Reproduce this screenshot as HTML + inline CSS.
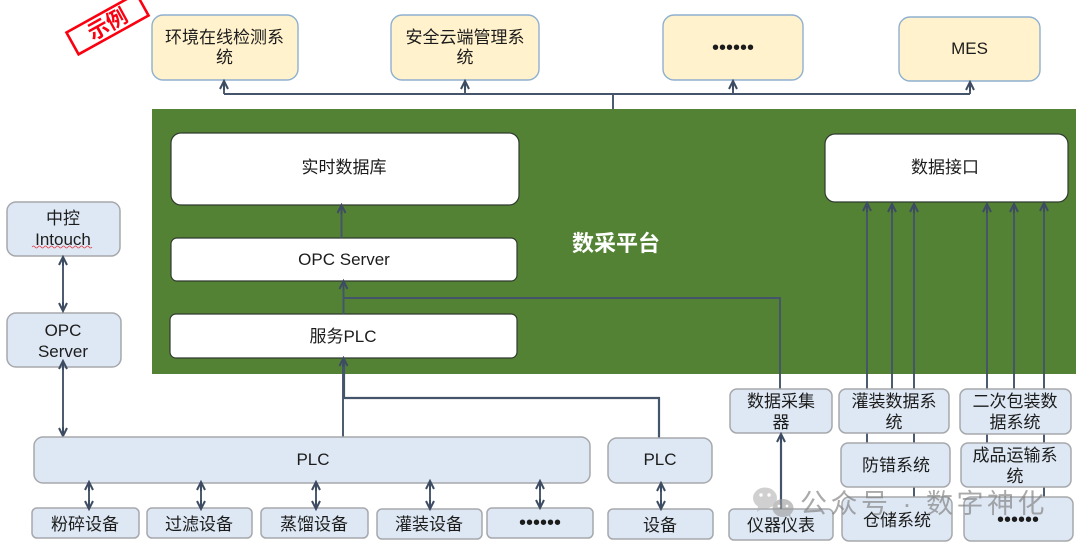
<!DOCTYPE html>
<html lang="zh">
<head>
<meta charset="utf-8">
<style>
html,body{margin:0;padding:0;background:#fff;width:1080px;height:547px;overflow:hidden}
svg{display:block}
text{font-family:"Liberation Sans","Noto Sans CJK SC",sans-serif;font-size:17px;fill:#1c1c1c;text-anchor:middle}
.y{fill:#fff2cc;stroke:#8fb0cf;stroke-width:1.4}
.b{fill:#dee8f4;stroke:#a6a8ab;stroke-width:1.5}
.w{fill:#fff;stroke:#2f3a2f;stroke-width:1.2}
.l{fill:none;stroke:#44546a;stroke-width:1.9}
.a{fill:none;stroke:#3d4c63;stroke-width:2}
.d{font-size:20px}
</style>
</head>
<body>
<svg width="1080" height="547" viewBox="0 0 1080 547" xmlns="http://www.w3.org/2000/svg">
<defs>
<path id="up" class="a" d="M-4 8 L0 0 L4 8 M0 1 V9"/>
<path id="dn" class="a" d="M-4 -8 L0 0 L4 -8 M0 -1 V-9"/>
</defs>

<!-- stamp -->
<g transform="translate(107.5 24) rotate(-29)">
<rect x="-40" y="-12.5" width="80" height="25" fill="#fff" stroke="#fa0010" stroke-width="2.6"/>
<text x="0" y="7.500" style="font-size:21px;font-weight:bold;fill:#fa0010">示例</text>
</g>

<!-- top boxes -->
<rect class="y" x="152" y="15" width="146" height="65" rx="11"/>
<rect class="y" x="391" y="15" width="148" height="65" rx="11"/>
<rect class="y" x="663" y="15" width="140" height="65" rx="11"/>
<rect class="y" x="899" y="17" width="141" height="64" rx="11"/>
<text x="224.500" y="43">环境在线检测系</text>
<text x="224.500" y="63">统</text>
<text x="465" y="43">安全云端管理系</text>
<text x="465" y="63">统</text>
<text x="733" y="54" class="d">••••••</text>
<text x="969.500" y="54">MES</text>

<!-- top bus -->
<path class="l" d="M224 94 H970 M224 94 V81 M465 94 V81 M733 94 V81 M970 94 V82 M613 109 V94"/>
<use href="#up" x="224" y="81"/>
<use href="#up" x="465" y="81"/>
<use href="#up" x="733" y="81"/>
<use href="#up" x="970" y="82"/>

<!-- green platform -->
<rect x="152" y="109" width="924" height="265" fill="#548235"/>
<text x="616" y="251" style="font-size:22px;font-weight:bold;fill:#fff">数采平台</text>

<!-- white boxes -->
<rect class="w" x="171" y="133" width="348" height="72" rx="10"/>
<rect class="w" x="825" y="134" width="243" height="68" rx="10"/>
<rect class="w" x="171" y="238" width="346" height="43" rx="6"/>
<rect class="w" x="170" y="314" width="347" height="44" rx="6"/>
<text x="344" y="173">实时数据库</text>
<text x="945" y="173">数据接口</text>
<text x="344" y="265">OPC Server</text>
<text x="343" y="342">服务PLC</text>

<!-- inner connectors -->
<path class="l" d="M341.500 238 V205"/>
<use href="#up" x="341.500" y="205"/>
<path class="l" d="M343.500 314 V281 M343.500 298 H780 V389"/>
<use href="#up" x="343.500" y="281"/>

<!-- data interface lines -->
<path class="l" d="M867 389 V203 M892 389 V203 M914 389 V203 M987 389 V203 M1014 389 V203 M1044 389 V203"/>
<use href="#up" x="867" y="203"/>
<use href="#up" x="892" y="204"/>
<use href="#up" x="914" y="204"/>
<use href="#up" x="987" y="204"/>
<use href="#up" x="1014" y="204"/>
<use href="#up" x="1044" y="203"/>
<path class="l" d="M867 433 V443 M914 433 V443 M914 487 V497 M987 434 V443 M1044 434 V443 M1044 487 V497"/>

<!-- left boxes -->
<rect class="b" x="7" y="202" width="113" height="54" rx="9"/>
<rect class="b" x="7" y="313" width="114" height="54" rx="9"/>
<text x="63" y="224">中控</text>
<text x="63" y="245">Intouch</text>
<path d="M32 247 q1.500 -2 3 0 t3 0 t3 0 t3 0 t3 0 t3 0 t3 0 t3 0 t3 0 t3 0 t3 0 t3 0 t3 0 t3 0 t3 0 t3 0 t3 0 t3 0 t3 0 t3 0" fill="none" stroke="#e0404a" stroke-width="0.8"/>
<text x="63" y="336">OPC</text>
<text x="63" y="357">Server</text>
<path class="l" d="M63 257 V311"/>
<use href="#up" x="63" y="257"/>
<use href="#dn" x="63" y="311"/>
<path class="l" d="M63 361 V435"/>
<use href="#up" x="63" y="361"/>
<use href="#dn" x="63" y="436"/>

<!-- PLC tree -->
<path class="l" d="M343 437 V358"/>
<path class="l" style="stroke-width:2.200" d="M344 358 V398 H659 V438"/>
<use href="#up" x="343.500" y="358"/>

<rect class="b" x="34" y="437" width="556" height="46" rx="9"/>
<rect class="b" x="608" y="438" width="104" height="45" rx="9"/>
<text x="313" y="465">PLC</text>
<text x="660" y="465">PLC</text>

<!-- bottom devices -->
<rect class="b" x="32" y="508" width="107" height="30" rx="5"/>
<rect class="b" x="147" y="508" width="105" height="30" rx="5"/>
<rect class="b" x="261" y="508" width="107" height="30" rx="5"/>
<rect class="b" x="377" y="509" width="105" height="30" rx="5"/>
<rect class="b" x="487" y="508" width="106" height="30" rx="5"/>
<rect class="b" x="608" y="509" width="105" height="30" rx="5"/>
<text x="85" y="530">粉碎设备</text>
<text x="199" y="530">过滤设备</text>
<text x="314" y="530">蒸馏设备</text>
<text x="429" y="530">灌装设备</text>
<text x="540" y="529" class="d">••••••</text>
<text x="660" y="531">设备</text>

<!-- double arrows -->
<path class="l" d="M89 483 V508 M201 483 V508 M316 483 V508 M430 482 V508 M540 481 V508 M661 483 V508"/>
<use href="#up" x="89" y="482"/>
<use href="#dn" x="89" y="509"/>
<use href="#up" x="201" y="482"/>
<use href="#dn" x="201" y="509"/>
<use href="#up" x="316" y="482"/>
<use href="#dn" x="316" y="509"/>
<use href="#up" x="430" y="481"/>
<use href="#dn" x="430" y="509"/>
<use href="#up" x="540" y="481"/>
<use href="#dn" x="540" y="508"/>
<use href="#up" x="661" y="483"/>
<use href="#dn" x="661" y="509"/>

<!-- right group -->
<rect class="b" x="730" y="389" width="102" height="44" rx="7"/>
<rect class="b" x="839" y="389" width="110" height="44" rx="7"/>
<rect class="b" x="960" y="389" width="111" height="45" rx="7"/>
<rect class="b" x="841" y="443" width="109" height="44" rx="7"/>
<rect class="b" x="961" y="443" width="110" height="44" rx="7"/>
<rect class="b" x="842" y="497" width="110" height="44" rx="7"/>
<rect class="b" x="964" y="497" width="109" height="44" rx="7"/>
<rect class="b" x="729" y="509" width="104" height="31" rx="5"/>
<text x="781" y="407">数据采集</text>
<text x="781" y="428">器</text>
<text x="894" y="407">灌装数据系</text>
<text x="894" y="428">统</text>
<text x="1015" y="407">二次包装数</text>
<text x="1015" y="428">据系统</text>
<text x="896" y="471">防错系统</text>
<text x="1015" y="461">成品运输系</text>
<text x="1015" y="482">统</text>
<text x="897" y="526">仓储系统</text>
<text x="1018" y="526" class="d">••••••</text>
<text x="781" y="531">仪器仪表</text>
<path class="l" style="stroke-width:2.200" d="M781 509 V434"/>
<use href="#up" x="781" y="434"/>

<!-- watermark -->
<g opacity="0.62">
<ellipse cx="765" cy="498" rx="12" ry="10.500" fill="#b4b4b4"/>
<path d="M758 506 l-1 6 l6 -4 z" fill="#b4b4b4"/>
<ellipse cx="783" cy="508" rx="10.500" ry="9" fill="#9c9c9c"/>
<path d="M788 515 l3 4 l-1 -6 z" fill="#9c9c9c"/>
<circle cx="761" cy="495" r="1.700" fill="#fff"/>
<circle cx="769" cy="495" r="1.700" fill="#fff"/>
<circle cx="779" cy="506" r="1.400" fill="#fff"/>
<circle cx="787" cy="506" r="1.400" fill="#fff"/>
</g>
<text x="924" y="513" style="font-size:27px;letter-spacing:3.500px;fill:#7e7e7e;opacity:0.65">公众号 · 数字神化</text>
</svg>
</body>
</html>
